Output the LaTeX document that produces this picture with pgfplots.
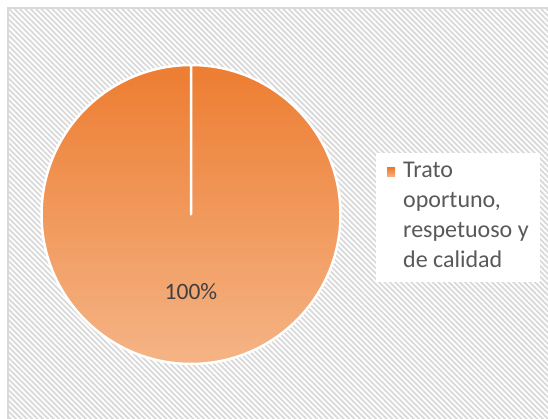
\documentclass[border=0pt]{standalone}
\usepackage{pgfplots}
\pgfplotsset{compat=1.18}
\usepackage{pgfplotstable}
\usepackage{fontspec}
\setmainfont{Carlito}
\usetikzlibrary{patterns.meta}
\definecolor{orA}{HTML}{ED7D31}
\definecolor{orB}{HTML}{F5B486}
\definecolor{txt}{HTML}{595959}
\definecolor{lbl}{HTML}{404040}
\definecolor{grid}{HTML}{D9D9D9}
\pgfplotstableread{
label value
Trato 100
}\piedata
\begin{document}
\begin{tikzpicture}
\useasboundingbox (0,0) rectangle (548pt,419pt);
\begin{axis}[
  at={(0,0)}, anchor=south west,
  width=548pt, height=419pt, scale only axis,
  xmin=0, xmax=548, ymin=0, ymax=419,
  hide axis, clip=false,
]
% background
\fill[white] (axis cs:0,0) rectangle (axis cs:548,419);
\fill[pattern={Lines[angle=-45,distance=3.8pt,line width=1.8pt]}, pattern color=grid]
  (axis cs:8,-5) rectangle (axis cs:560,411);
\draw[grid, line width=1.3pt] (axis cs:8,-5) -- (axis cs:8,411) -- (axis cs:560,411);
% pie
\pgfplotstablegetelem{0}{value}\of\piedata
\let\pct\pgfplotsretval
\path[top color=orA, bottom color=orB, draw=white, line width=2.5pt, line join=round]
  (axis cs:191,204.5) -- ++(90:149.5pt) arc[start angle=90, end angle={90-3.6*\pct}, radius=149.5pt] -- cycle;
\draw[white, line width=2.5pt] (axis cs:191,204.5) -- ++(90:149.5pt);
\node[font={\fontsize{23.5}{28}\selectfont}, text=lbl] at (axis cs:191,127) {100\%};
% legend
\fill[white] (axis cs:376,137) rectangle (axis cs:540,266);
\path[top color=orA, bottom color=orB] (axis cs:387,251) rectangle (axis cs:395,242);
\node[anchor=base west, inner sep=0pt, text=txt] at (axis cs:403,241)
  {\parbox[t]{140pt}{\fontsize{24}{29.7}\selectfont Trato\\oportuno,\\respetuoso y\\de calidad}};
\end{axis}
\end{tikzpicture}
\end{document}
